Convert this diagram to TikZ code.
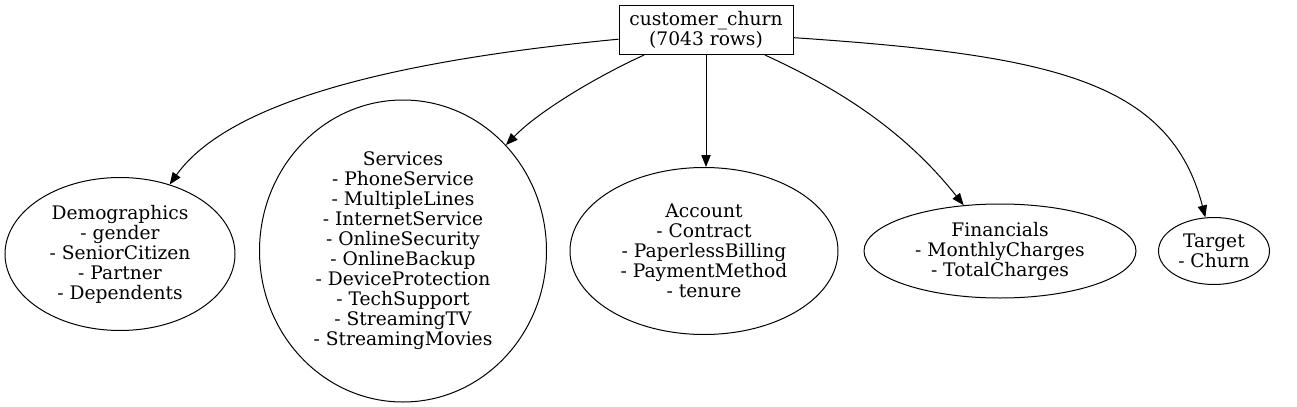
\documentclass[tikz,border=0pt]{standalone}
\usepackage{fontspec}
\setmainfont{DejaVu Serif}
\usetikzlibrary{shapes.geometric,arrows.meta}
\tikzset{every node/.append style={font=\fontsize{14pt}{15pt}\selectfont}}

\begin{document}
\begin{tikzpicture}[x=0.75pt,y=-0.75pt,line width=0.75pt,
	group/.style={draw,ellipse,inner sep=0pt,align=center},
	table/.style={draw,rectangle,inner sep=0pt,align=center,minimum width=130.5pt,minimum height=36.75pt},
	link/.style={-{Triangle[length=9pt,width=7pt]}}]
	\useasboundingbox (0,0) rectangle (1297,407);
	\node[table] (churn) at (706,30) {customer\_churn\\(7043 rows)};
	\node[group,minimum width=172.5pt,minimum height=114.75pt] (demo) at (120,254)
		{Demographics\\- gender\\- SeniorCitizen\\- Partner\\- Dependents};
	\node[group,minimum width=215.25pt,minimum height=226.5pt] (serv) at (403,251)
		{Services\\- PhoneService\\- MultipleLines\\- InternetService\\- OnlineSecurity\\- OnlineBackup\\- DeviceProtection\\- TechSupport\\- StreamingTV\\- StreamingMovies};
	\node[group,minimum width=201pt,minimum height=125.25pt] (acct) at (704,251)
		{Account\\- Contract\\- PaperlessBilling\\- PaymentMethod\\- tenure};
	\node[group,minimum width=204pt,minimum height=70.5pt] (fin) at (1000,251)
		{Financials\\- MonthlyCharges\\- TotalCharges};
	\node[group,minimum width=83.25pt,minimum height=50.25pt] (target) at (1214,251)
		{Target\\- Churn};
	% edges
	\draw[link] (churn.186) .. controls (400,60) and (230,100) .. (demo);
	\draw[link] (churn.202) .. controls (600,75) and (540,110) .. (serv);
	\draw[link] (churn) -- (churn |- acct.north);
	\draw[link] (churn.-23) .. controls (830,85) and (900,125) .. (fin);
	\draw[link] (churn.-5) .. controls (1050,55) and (1170,80) .. (target);
\end{tikzpicture}
\end{document}
